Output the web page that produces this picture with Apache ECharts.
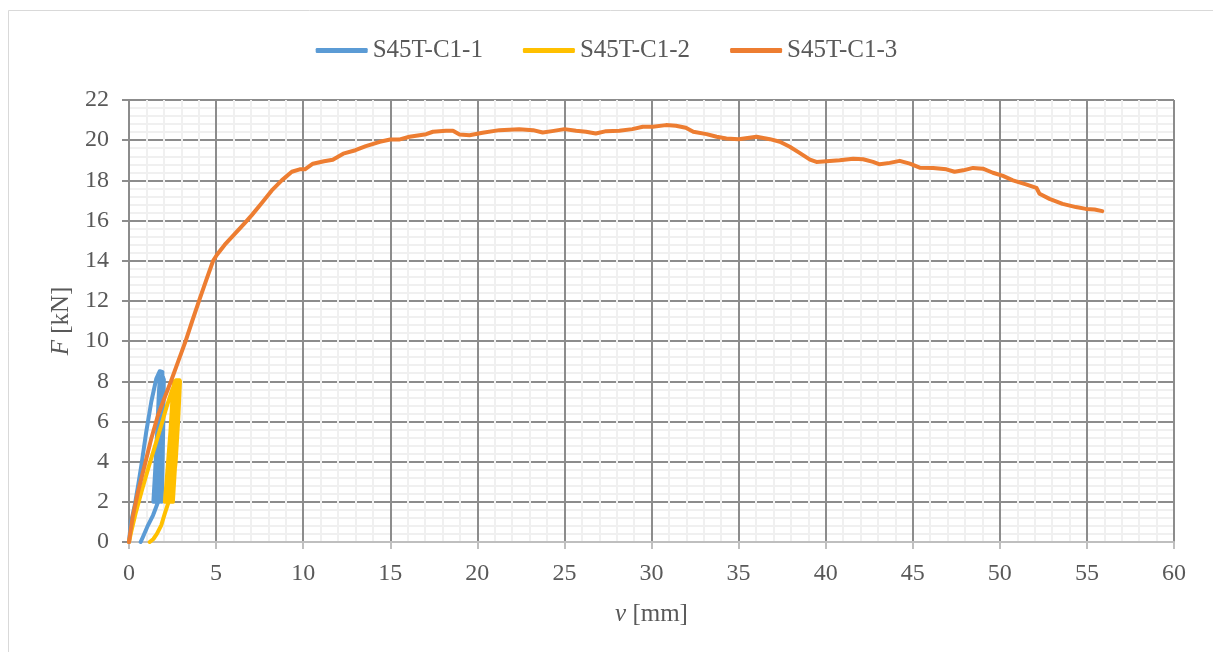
<!DOCTYPE html>
<html>
<head>
<meta charset="utf-8">
<script src="https://cdn.jsdelivr.net/npm/echarts@6/dist/echarts.min.js"></script>
<style>
html,body{margin:0;padding:0;background:#fff;}
#c{width:1213px;height:652px;}
</style>
</head>
<body>
<div id="c"></div>
<script>
const seriesNames = ['S45T-C1-1', 'S45T-C1-2', 'S45T-C1-3'];
const xTicks = [0, 5, 10, 15, 20, 25, 30, 35, 40, 45, 50, 55, 60];
const yTicks = [0, 2, 4, 6, 8, 10, 12, 14, 16, 18, 20, 22];

// S45T-C1-1 : displacement v [mm], force F [kN]
const v1 = [0, 0.10, 0.33, 0.52, 0.71, 0.99, 1.28, 1.57, 1.76, 1.92,
  1.86, 1.72, 1.55, 1.40,
  1.50, 1.62, 1.72, 1.78,
  1.72, 1.62, 1.52,
  1.62, 1.72, 1.82,
  1.77, 1.70, 1.63,
  1.72, 1.80, 1.88,
  1.83, 1.78, 1.75,
  1.83, 1.90, 1.96,
  1.92, 1.90, 1.88,
  1.93, 1.97, 2.00,
  1.96, 1.90, 1.80, 1.63, 1.38, 1.09, 0.80, 0.67];
const F1 = [0, 0.9, 1.83, 2.8, 3.82, 5.48, 6.98, 8.14, 8.5, 8.47,
  7.0, 5.0, 3.2, 2.0,
  3.5, 5.5, 7.5, 8.2,
  6.5, 4.5, 2.0,
  4.0, 6.0, 8.2,
  6.0, 4.0, 2.0,
  4.0, 6.0, 8.2,
  6.0, 4.0, 2.0,
  4.0, 6.0, 8.2,
  6.0, 4.0, 2.0,
  4.0, 6.0, 8.1,
  6.0, 4.0, 2.5, 1.9, 1.33, 0.83, 0.25, 0];

// S45T-C1-2
const v2 = [0, 0.15, 0.40, 0.75, 1.15, 1.50, 1.85, 2.15, 2.45, 2.70, 2.90,
  2.72, 2.50, 2.30, 2.06,
  2.20, 2.38, 2.50, 2.60,
  2.50, 2.35, 2.18,
  2.32, 2.48, 2.66,
  2.58, 2.45, 2.30,
  2.42, 2.58, 2.74,
  2.66, 2.55, 2.42,
  2.54, 2.70, 2.84,
  2.78, 2.66, 2.52,
  2.64, 2.80, 2.93,
  2.82, 2.68, 2.50, 2.35, 2.20, 2.05, 1.85, 1.60, 1.40, 1.19];
const F2 = [0, 0.6, 1.5, 2.6, 3.8, 4.8, 5.8, 6.7, 7.5, 8.05, 8.05,
  6.5, 4.5, 3.0, 2.0,
  3.5, 5.5, 7.2, 8.0,
  6.0, 4.0, 2.0,
  4.0, 6.0, 8.0,
  6.0, 4.0, 2.0,
  4.0, 6.0, 8.0,
  6.0, 4.0, 2.0,
  4.0, 6.0, 8.0,
  6.0, 4.0, 2.0,
  4.0, 6.0, 8.0,
  6.0, 4.0, 2.6, 2.2, 1.8, 1.4, 0.83, 0.4, 0.15, 0];

// S45T-C1-3
const v3 = [0, 0.08, 0.23, 0.52, 0.90, 1.28, 1.66, 2.05, 2.41, 2.83, 3.25, 3.63, 4.02, 4.42, 4.83, 5.05,
  5.5, 6.1, 6.67, 7.05, 7.6, 8.2, 8.77, 9.35, 9.8, 10.1, 10.56, 11.2, 11.7, 12.3, 13.0, 13.6, 14.4,
  15.0, 15.5, 16.1, 17.06, 17.45, 18.2, 18.6, 18.98, 19.55, 20.3, 21.27, 22.4, 23.2, 23.75, 24.3,
  25.0, 25.67, 26.24, 26.8, 27.4, 28.15, 28.9, 29.5, 30.07, 30.83, 31.4, 31.97, 32.4, 33.16, 33.74,
  34.3, 35.0, 36.03, 36.8, 37.37, 37.94, 38.5, 39.1, 39.47, 40.05, 40.8, 41.58, 42.15, 42.72, 43.1,
  43.68, 44.25, 44.83, 45.4, 46.17, 46.93, 47.4, 47.9, 48.46, 49.03, 49.6, 50.18, 50.75, 51.5, 52.1,
  52.28, 52.85, 53.6, 54.37, 54.94, 55.44, 55.88];
const F3 = [0, 0.5, 1.33, 2.5, 3.82, 5.15, 6.3, 7.2, 8.0, 9.0, 10.0, 11.0, 12.0, 13.0, 14.0, 14.3,
  14.8, 15.36, 15.9, 16.27, 16.85, 17.5, 18.0, 18.43, 18.55, 18.55, 18.83, 18.95, 19.03, 19.33, 19.5, 19.7, 19.92,
  20.03, 20.03, 20.17, 20.3, 20.42, 20.47, 20.47, 20.28, 20.25, 20.37, 20.5, 20.55, 20.5, 20.38, 20.45,
  20.55, 20.47, 20.42, 20.33, 20.45, 20.47, 20.55, 20.67, 20.67, 20.75, 20.72, 20.62, 20.42, 20.3, 20.17,
  20.08, 20.05, 20.17, 20.05, 19.92, 19.67, 19.37, 19.03, 18.92, 18.95, 19.0, 19.08, 19.05, 18.92, 18.8,
  18.87, 18.97, 18.83, 18.63, 18.62, 18.55, 18.43, 18.5, 18.62, 18.58, 18.38, 18.22, 18.0, 17.8, 17.63,
  17.33, 17.08, 16.83, 16.67, 16.58, 16.55, 16.47];

const colors = ['#5B9BD5', '#FFC000', '#ED7D31'];
const textColor = '#595959';
const fontFamily = '"Liberation Serif", "DejaVu Serif", serif';

function pairs(xs, ys) { return xs.map((x, i) => [x, ys[i]]); }
const dataSets = [pairs(v1, F1), pairs(v2, F2), pairs(v3, F3)];

const chart = echarts.init(document.getElementById('c'), null, {renderer: 'canvas'});
chart.setOption({
  animation: false,
  backgroundColor: '#ffffff',
  textStyle: {fontFamily: fontFamily, color: textColor},
  graphic: [
    {type: 'line', shape: {x1: 8.5, y1: 10.5, x2: 1213, y2: 10.5}, style: {stroke: '#d9d9d9', lineWidth: 1}},
    {type: 'line', shape: {x1: 8.5, y1: 10.5, x2: 8.5, y2: 652}, style: {stroke: '#d9d9d9', lineWidth: 1}}
  ],
  legend: {
    top: 33,
    left: 'center',
    icon: 'roundRect',
    itemWidth: 52,
    itemHeight: 5,
    itemGap: 40,
    textStyle: {fontFamily: fontFamily, fontSize: 25, color: textColor},
    data: seriesNames
  },
  grid: {left: 129, right: 39, top: 100, bottom: 110, containLabel: false},
  xAxis: {
    type: 'value', min: xTicks[0], max: xTicks[xTicks.length - 1], interval: 5,
    z: 1,
    name: '{i|v} [mm]',
    nameLocation: 'middle',
    nameGap: 60,
    nameTextStyle: {fontFamily: fontFamily, fontSize: 25, color: textColor,
      rich: {i: {fontStyle: 'italic', fontFamily: fontFamily, fontSize: 25, color: textColor}}},
    axisLine: {show: true, lineStyle: {color: '#bfbfbf', width: 2}},
    axisTick: {show: true, length: 7, lineStyle: {color: '#bfbfbf', width: 2}},
    axisLabel: {margin: 20, fontSize: 24, color: textColor, fontFamily: fontFamily},
    splitLine: {show: true, lineStyle: {color: '#8c8c8c', width: 2}},
    minorTick: {show: false, splitNumber: 5},
    minorSplitLine: {show: true, lineStyle: {color: '#f0f0f0', width: 2}}
  },
  yAxis: {
    type: 'value', min: yTicks[0], max: yTicks[yTicks.length - 1], interval: 2,
    z: 0,
    name: '{i|F} [kN]',
    nameLocation: 'middle',
    nameGap: 55,
    nameRotate: 90,
    nameTextStyle: {fontFamily: fontFamily, fontSize: 25, color: textColor,
      rich: {i: {fontStyle: 'italic', fontFamily: fontFamily, fontSize: 25, color: textColor}}},
    axisLine: {show: true, lineStyle: {color: '#8c8c8c', width: 2}},
    axisTick: {show: true, length: 7, lineStyle: {color: '#8c8c8c', width: 2}},
    axisLabel: {margin: 20, fontSize: 24, color: textColor, fontFamily: fontFamily},
    splitLine: {show: true, lineStyle: {color: '#8c8c8c', width: 2}},
    minorTick: {show: false, splitNumber: 5},
    minorSplitLine: {show: true, lineStyle: {color: '#f0f0f0', width: 2}}
  },
  series: seriesNames.map((name, i) => ({
    name: name,
    type: 'line',
    data: dataSets[i],
    showSymbol: false,
    symbol: 'none',
    smooth: false,
    color: colors[i],
    lineStyle: {color: colors[i], width: 4, cap: 'round', join: 'round'},
    z: 2 + i
  }))
});
</script>
</body>
</html>
